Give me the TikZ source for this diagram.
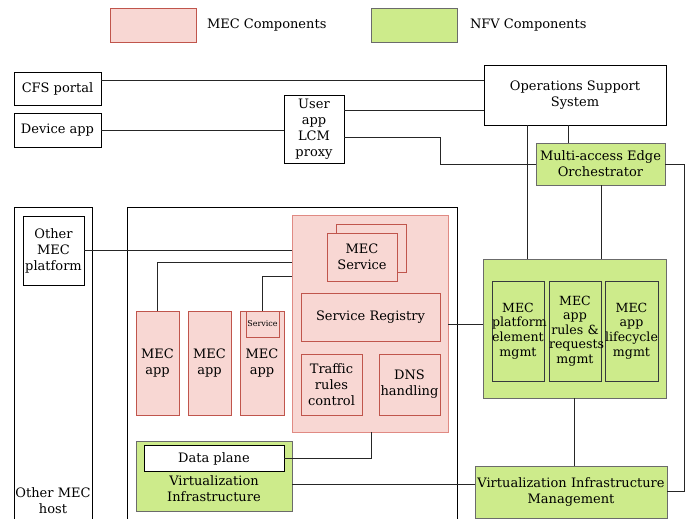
\documentclass[tikz,border=0pt]{standalone}
\usepackage{fontspec}
\setmainfont{DejaVu Serif}
\definecolor{pinkfill}{HTML}{F8D7D3}
\definecolor{pinkline}{HTML}{C0554C}
\definecolor{pinklight}{HTML}{E08A83}
\definecolor{greenfill}{HTML}{CDEB8B}
\definecolor{greenline}{HTML}{6B6B6B}
\definecolor{darkline}{HTML}{36393D}
\begin{document}
\begin{tikzpicture}[x=1pt,y=-1pt,
  font=\fontsize{13}{16}\selectfont,
  every node/.style={inner sep=0pt, outer sep=0pt, align=center},
  wbox/.style={draw=black, fill=white, line width=0.9pt},
  mecbox/.style={draw=pinkline, fill=pinkfill, line width=0.9pt},
  nfvbox/.style={draw=greenline, fill=greenfill, line width=0.9pt},
  subbox/.style={draw=darkline, fill=greenfill, line width=0.9pt, minimum height=100pt, font=\fontsize{12.6}{14.6}\selectfont},
  conn/.style={draw=black!85, line width=0.9pt}]
\useasboundingbox (0,0) rectangle (685,519);
% legend
\node[mecbox, minimum width=86pt, minimum height=34pt] (legmec) at (153,25) {};
\node[anchor=west] (legmectxt) at (207,25) {MEC Components};
\node[nfvbox, minimum width=86pt, minimum height=34pt] (legnfv) at (414,25) {};
\node[anchor=west] (legnfvtxt) at (470,25) {NFV Components};
% top row
\node[wbox, minimum width=87pt, minimum height=33pt] (cfs) at (57.5,88.5) {CFS portal};
\node[wbox, minimum width=87pt, minimum height=34pt] (dev) at (57.5,130) {Device app};
\node[wbox, minimum width=60pt, minimum height=68pt] (proxy) at (314,129) {User\\app\\LCM\\proxy};
\node[wbox, minimum width=182pt, minimum height=60pt] (oss) at (575,95) {Operations Support\\System};
\node[nfvbox, minimum width=129pt, minimum height=42pt] (meo) at (600.5,164) {Multi-access Edge\\Orchestrator};
% hosts
\draw[line width=0.9pt] (14,520) -- (14,207) -- (92,207) -- (92,520);
\node (ohosttxt) at (53,501) {Other MEC\\host};
\node[wbox, text width=61pt, minimum height=69pt] (oplat) at (53.5,250.5) {Other\\MEC\\platform};
\draw[line width=0.9pt] (127,520) -- (127,207) -- (457,207) -- (457,520);
% MEC platform
\node[draw=pinklight, fill=pinkfill, line width=0.9pt, minimum width=156pt, minimum height=217pt] (plat) at (370,323.5) {};
\node[mecbox, minimum width=70pt, minimum height=48pt] (svcback) at (371,248) {};
\node[mecbox, minimum width=70pt, minimum height=48pt] (svc) at (362,257) {MEC\\Service};
\node[mecbox, minimum width=139pt, minimum height=48pt] (reg) at (370.5,317) {Service Registry};
\node[mecbox, text width=61pt, minimum height=61pt] (trc) at (331.5,384.5) {Traffic\\rules\\control};
\node[mecbox, text width=61pt, minimum height=61pt] (dns) at (409.5,384.5) {DNS\\handling};
% MEC apps
\node[mecbox, text width=43pt, minimum height=104pt] (app1) at (157.5,363) {MEC\\app};
\node[mecbox, text width=43pt, minimum height=104pt] (app2) at (209.5,363) {MEC\\app};
\node[mecbox, text width=44pt, minimum height=104pt] (app3) at (262,363) {MEC\\app};
\node[mecbox, text width=33pt, minimum height=26pt, font=\fontsize{8}{9}\selectfont] (appsvc) at (262.5,324) {Service};
% VI
\node[nfvbox, minimum width=156pt, minimum height=70pt] (vi) at (214,476) {};
\node[wbox, minimum width=140pt, minimum height=26pt] (dp) at (214,458.5) {Data plane};
\node (vitxt) at (214,488.5) {Virtualization\\Infrastructure};
% MEC platform manager
\node[nfvbox, minimum width=183pt, minimum height=139pt] (mgr) at (574.5,328.5) {};
\node[subbox, text width=52pt] (pem) at (518,331) {MEC\\platform\\element\\mgmt};
\node[subbox, text width=52pt] (arr) at (575,331) {MEC\\app\\rules \&\\requests\\mgmt};
\node[subbox, text width=53pt] (alm) at (631.5,331) {MEC\\app\\lifecycle\\mgmt};
\node[nfvbox, text width=192pt, minimum height=52pt] (vim) at (571,492) {Virtualization Infrastructure\\Management};
% connectors
\draw[conn] (cfs.east |- 0,80) -- (oss.west |- 0,80);
\draw[conn] (dev.east) -- (proxy.west |- dev.east);
\draw[conn] (proxy.east |- 0,110) -- (oss.west |- 0,110);
\draw[conn] (proxy.east |- 0,137) -- (440,137) -- (440,164) -- (meo.west);
\draw[conn] (oss.south -| 527,0) -- (mgr.north -| 527,0);
\draw[conn] (oss.south -| 568,0) -- (meo.north -| 568,0);
\draw[conn] (meo.south -| 601,0) -- (mgr.north -| 601,0);
\draw[conn] (meo.east) -- (684,164) -- (684,491) -- (vim.east |- 0,491);
\draw[conn] (oplat.east) -- (plat.west |- oplat.east);
\draw[conn] (app1.north) -- (157.5,262.5) -- (plat.west |- 0,262.5);
\draw[conn] (appsvc.north) -- (262.5,276) -- (plat.west |- 0,276);
\draw[conn] (plat.south -| 371,0) -- (371,458.5) -- (dp.east);
\draw[conn] (vi.east |- 0,484.5) -- (vim.west |- 0,484.5);
\draw[conn] (plat.east |- 0,324) -- (mgr.west |- 0,324);
\draw[conn] (mgr.south) -- (vim.north -| mgr.south);
\end{tikzpicture}
\end{document}
